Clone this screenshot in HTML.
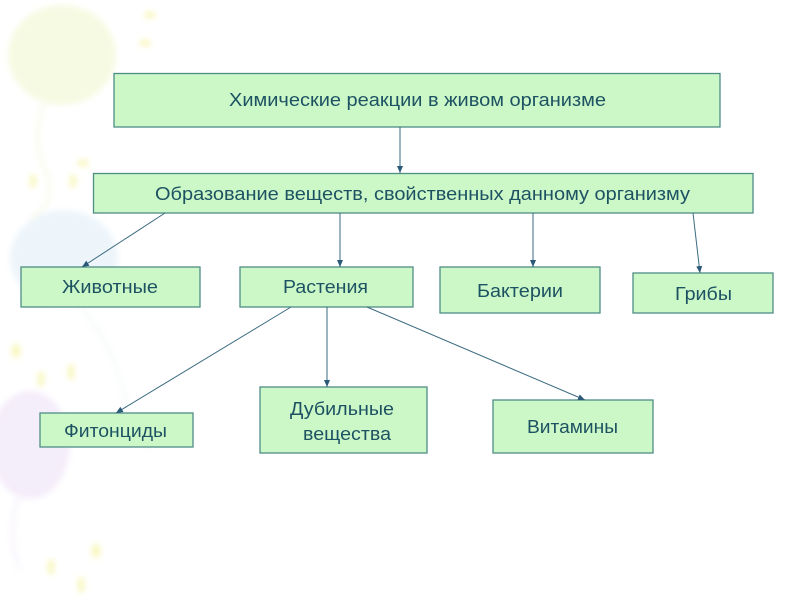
<!DOCTYPE html>
<html><head><meta charset="utf-8">
<style>
html,body{margin:0;padding:0;background:#fff;}
svg{display:block;}
text{font-family:"Liberation Sans","DejaVu Sans",sans-serif;font-size:18px;fill:#1d5262;}
</style></head>
<body>
<svg width="800" height="600" viewBox="0 0 800 600" xmlns="http://www.w3.org/2000/svg">
<defs>
<marker id="a" markerWidth="8" markerHeight="8" refX="7" refY="4" orient="auto" markerUnits="userSpaceOnUse">
<path d="M0,1 L7,4 L0,7 Z" fill="#2a5a78"/>
</marker>
<filter id="bl"><feGaussianBlur stdDeviation="3"/></filter>
</defs>
<!-- background balloons -->
<g filter="url(#bl)" opacity="0.45">
<ellipse cx="62" cy="55" rx="54" ry="50" fill="#eef4c0"/>
<path d="M45,100 Q30,140 45,170 Q60,200 30,220" stroke="#f3f6d8" stroke-width="4" fill="none"/>
<ellipse cx="64" cy="258" rx="54" ry="48" fill="#d8e9f6"/>
<path d="M75,300 Q110,340 120,380 Q130,420 150,450" stroke="#eef4f6" stroke-width="4" fill="none"/>
<ellipse cx="30" cy="445" rx="40" ry="54" fill="#e8d8f4"/>
<path d="M20,495 Q5,530 20,570" stroke="#f0e8f6" stroke-width="4" fill="none"/>
</g>
<g fill="#f6f4a8" opacity="0.75" filter="url(#bl)">
<rect x="145" y="12" width="10" height="6"/>
<rect x="140" y="40" width="10" height="6"/>
<rect x="78" y="160" width="10" height="6"/>
<rect x="30" y="175" width="6" height="12"/>
<rect x="70" y="175" width="6" height="12"/>
<rect x="12" y="345" width="8" height="12"/>
<rect x="38" y="372" width="6" height="14"/>
<rect x="68" y="365" width="6" height="14"/>
<rect x="92" y="545" width="8" height="12"/>
<rect x="48" y="560" width="6" height="14"/>
<rect x="78" y="578" width="6" height="14"/>
</g>

<!-- boxes -->
<g fill="#ccf8c8" stroke="#4f8c86" stroke-width="1.3">
<rect x="114" y="73.5" width="606" height="53.5"/>
<rect x="93.5" y="173.5" width="659.5" height="39.5"/>
<rect x="21" y="267" width="179" height="40"/>
<rect x="240" y="267" width="173" height="40"/>
<rect x="440" y="267" width="160" height="46"/>
<rect x="633" y="273" width="140" height="40"/>
<rect x="40" y="413" width="153" height="34"/>
<rect x="260" y="387" width="167" height="66"/>
<rect x="493" y="400" width="160" height="53"/>
</g>

<!-- connectors -->
<g stroke="#3a6a80" stroke-width="1" fill="none" marker-end="url(#a)">
<line x1="400" y1="127" x2="400" y2="173"/>
<line x1="165" y1="213" x2="82" y2="267"/>
<line x1="340" y1="213" x2="340" y2="267"/>
<line x1="533" y1="213" x2="533" y2="267"/>
<line x1="693" y1="213" x2="700" y2="273"/>
<line x1="291" y1="307" x2="116" y2="413"/>
<line x1="327" y1="307" x2="327" y2="387"/>
<line x1="367" y1="307" x2="585" y2="400"/>
</g>

<!-- labels -->
<text x="229" y="106" textLength="377" lengthAdjust="spacingAndGlyphs">Химические реакции в живом организме</text>
<text x="155" y="200" textLength="535" lengthAdjust="spacingAndGlyphs">Образование веществ, свойственных данному организму</text>
<text x="62" y="293" textLength="96" lengthAdjust="spacingAndGlyphs">Животные</text>
<text x="283" y="293" textLength="85" lengthAdjust="spacingAndGlyphs">Растения</text>
<text x="477" y="297" textLength="86" lengthAdjust="spacingAndGlyphs">Бактерии</text>
<text x="675" y="300" textLength="57" lengthAdjust="spacingAndGlyphs">Грибы</text>
<text x="64" y="437" textLength="103" lengthAdjust="spacingAndGlyphs">Фитонциды</text>
<text x="290" y="415" textLength="104" lengthAdjust="spacingAndGlyphs">Дубильные</text>
<text x="303" y="440" textLength="88" lengthAdjust="spacingAndGlyphs">вещества</text>
<text x="527" y="433" textLength="91" lengthAdjust="spacingAndGlyphs">Витамины</text>
</svg>
</body></html>
